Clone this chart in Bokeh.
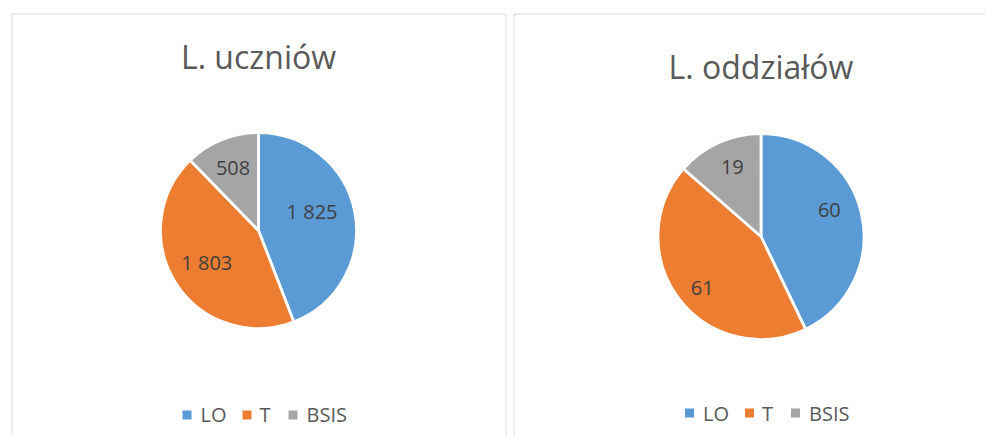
import numpy as np
from bokeh.plotting import figure
from bokeh.models import Range1d, ColumnDataSource
from bokeh.core.properties import value
from bokeh.embed import file_html
from bokeh.resources import INLINE

# ---- data ----
categories = ["LO", "T", "BSIS"]
students = [1825, 1803, 508]
classes = [60, 61, 19]
titles = ["L. uczniów", "L. oddziałów"]

# ---- style ----
colors = ["#5B9BD5", "#ED7D31", "#A5A5A5"]
FONT = value("Open Sans")
TITLE_COLOR = "#595959"
LABEL_COLOR = "#404040"
LEGEND_COLOR = "#595959"
BORDER_COLOR = "#D9D9D9"

W, H = 985, 435
p = figure(width=W, height=H, x_range=Range1d(0, W), y_range=Range1d(-H, 0),
           output_backend="svg", toolbar_location=None, min_border=0,
           x_axis_location=None, y_axis_location=None)
p.grid.visible = False
p.outline_line_color = None
p.background_fill_color = "white"
p.border_fill_color = "white"

# panel frames
p.quad(left=[11.5, 513.5], right=[505.5, 1008.5], top=[-13.5, -13.5], bottom=[-470, -470],
       fill_color=None, line_color=BORDER_COLOR, line_width=1)


def fmt(v):
    return f"{v:,}".replace(",", " ")


def pie(values, title, cx, cy, r, title_mid, label_frac, label_adj, leg_sq_y, leg_mid):
    vals = np.array(values, dtype=float)
    frac = vals / vals.sum()
    cum = np.concatenate([[0.0], np.cumsum(frac)]) * 360.0
    start = np.radians(90.0 - cum[:-1])
    end = np.radians(90.0 - cum[1:])
    src = ColumnDataSource(dict(start=start, end=end, color=colors))
    p.wedge(x=cx, y=-cy, radius=r, start_angle="start", end_angle="end",
            direction="clock", fill_color="color", line_color="white",
            line_width=2.8, source=src)

    mid = np.radians((cum[:-1] + cum[1:]) / 2.0 + np.array(label_adj))
    lf = np.array(label_frac)
    lx = cx + lf * r * np.sin(mid)
    ly = -cy + lf * r * np.cos(mid)
    p.text(x=lx, y=ly, text=[fmt(v) for v in values], text_font=FONT,
           text_font_size="20px", text_color=LABEL_COLOR,
           text_align="center", text_baseline="middle")

    # title
    p.text(x=[cx], y=[-title_mid], text=[title], text_font=FONT,
           text_font_size="32px", text_color=TITLE_COLOR,
           text_align="center", text_baseline="middle")

    # legend
    sq_off = np.array([-71.5, -11.5, 34.5])
    tx_off = np.array([-58.0, 1.0, 48.0])
    p.scatter(x=cx + sq_off, y=[-leg_sq_y] * 3, marker="square", size=9,
              fill_color=colors, line_color=None)
    p.text(x=cx + tx_off, y=[-leg_mid] * 3, text=categories, text_font=FONT,
           text_font_size="20px", text_color=LEGEND_COLOR,
           text_align="left", text_baseline="middle")


pie(students, titles[0], 258, 230, 98, 55.5, [0.58, 0.62, 0.69], [-9, 1, 0], 414.5, 414)
pie(classes, titles[1], 760.5, 236, 103, 65.5, [0.71, 0.76, 0.73], [-8, -4, 2], 412.5, 412.5)

open("out.html", "w").write(file_html(p, INLINE))
